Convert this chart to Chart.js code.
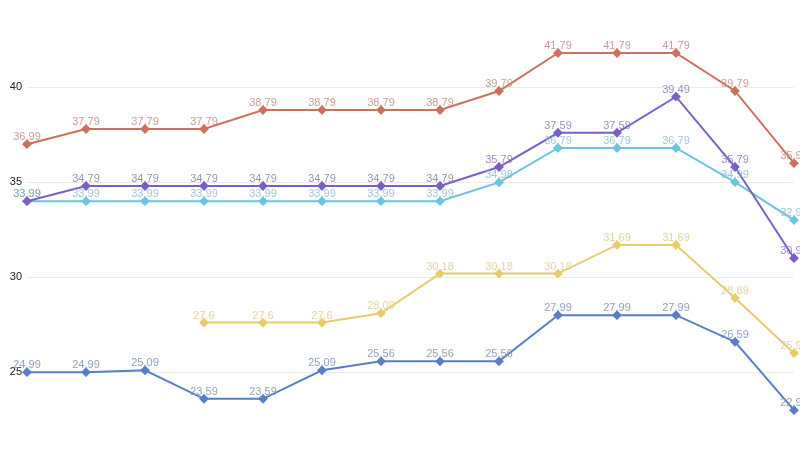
<!DOCTYPE html>
<html>
<head>
<meta charset="utf-8">
<script src="https://cdn.jsdelivr.net/npm/chart.js@4"></script>
<style>
  html, body { margin: 0; padding: 0; background: #fff; }
  #wrap { width: 800px; height: 450px; }
</style>
</head>
<body>
<div id="wrap"><canvas id="plot"></canvas></div>
<script>
const categories = ['1', '2', '3', '4', '5', '6', '7', '8', '9', '10', '11', '12', '13', '14'];

const redValues    = [36.99, 37.79, 37.79, 37.79, 38.79, 38.79, 38.79, 38.79, 39.79, 41.79, 41.79, 41.79, 39.79, 35.99];
const purpleValues = [33.99, 34.79, 34.79, 34.79, 34.79, 34.79, 34.79, 34.79, 35.79, 37.59, 37.59, 39.49, 35.79, 30.99];
const cyanValues   = [33.99, 33.99, 33.99, 33.99, 33.99, 33.99, 33.99, 33.99, 34.98, 36.79, 36.79, 36.79, 34.99, 32.99];
const yellowValues = [null, null, null, 27.6, 27.6, 27.6, 28.09, 30.18, 30.18, 30.18, 31.69, 31.69, 28.89, 25.99];
const blueValues   = [24.99, 24.99, 25.09, 23.59, 23.59, 25.09, 25.56, 25.56, 25.56, 27.99, 27.99, 27.99, 26.59, 22.99];

const yTicks = [25, 30, 35, 40];

function makeSet(values, color, labelColor) {
    return {
        data: values,
        borderColor: color,
        backgroundColor: color,
        borderWidth: 2,
        pointStyle: 'rectRot',
        pointRadius: 3.5,
        pointHoverRadius: 3.5,
        tension: 0,
        clip: false,
        labelColor: labelColor
    };
}

// writes the value just above each point
const valueLabels = {
    id: 'valueLabels',
    afterDatasetsDraw(chart) {
        const ctx = chart.ctx;
        ctx.save();
        ctx.font = '11px "Liberation Sans", Arial, sans-serif';
        ctx.textAlign = 'center';
        ctx.textBaseline = 'middle';
        chart.data.datasets.forEach((ds, i) => {
            const meta = chart.getDatasetMeta(i);
            ctx.fillStyle = ds.labelColor;
            meta.data.forEach((pt, j) => {
                const v = ds.data[j];
                if (v === null) return;
                ctx.fillText(String(v), pt.x, pt.y - 7);
            });
        });
        ctx.restore();
    }
};

const ctx = document.getElementById('plot').getContext('2d');
new Chart(ctx, {
    type: 'line',
    data: {
        labels: categories,
        datasets: [
            makeSet(redValues, '#cf6f60', 'rgba(195,140,130,0.85)'),
            makeSet(purpleValues, '#7a5ec6', 'rgba(140,125,180,0.85)'),
            makeSet(cyanValues, '#6cc5dd', 'rgba(140,190,205,0.85)'),
            makeSet(yellowValues, '#e6cc6c', 'rgba(222,208,145,0.9)'),
            makeSet(blueValues, '#5a7ec6', 'rgba(125,145,185,0.85)')
        ]
    },
    options: {
        responsive: true,
        maintainAspectRatio: false,
        animation: false,
        layout: { autoPadding: false, padding: { left: 0, right: 6, top: 0, bottom: 0 } },
        plugins: {
            legend: { display: false },
            tooltip: { enabled: false }
        },
        scales: {
            x: {
                display: false,
                offset: false
            },
            y: {
                min: 20.895,
                max: 44.579,
                afterBuildTicks: axis => { axis.ticks = yTicks.map(v => ({ value: v })); },
                afterFit: axis => {
                    axis.width = 27;
                    axis.paddingTop = 0;
                    axis.paddingBottom = 0;
                },
                border: { display: false },
                grid: { color: '#ebebeb', drawTicks: false, lineWidth: 1 },
                ticks: {
                    padding: 5,
                    color: '#222',
                    font: { size: 11, family: '"Liberation Sans", Arial, sans-serif' }
                }
            }
        }
    },
    plugins: [valueLabels]
});
</script>
</body>
</html>
